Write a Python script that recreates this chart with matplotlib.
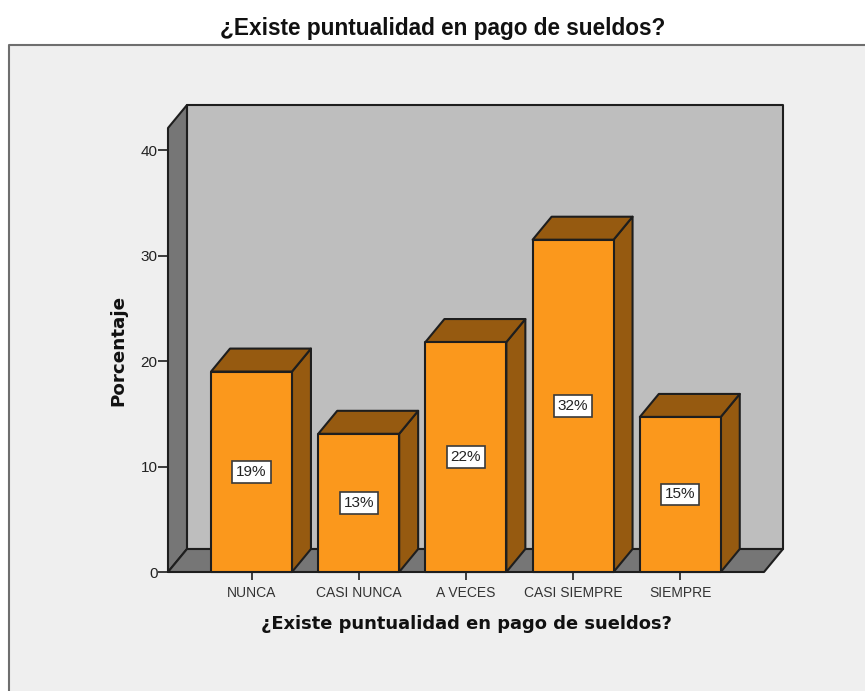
"""Barras 3D: puntualidad en pago de sueldos"""
import matplotlib
matplotlib.use('Agg')
import matplotlib.pyplot as plt
from matplotlib.patches import Polygon, Rectangle
from matplotlib.lines import Line2D

categorias = ['NUNCA', 'CASI NUNCA', 'A VECES', 'CASI SIEMPRE', 'SIEMPRE']
porcentajes = [19.0, 13.1, 21.8, 31.5, 14.7]
ticks_y = [0, 10, 20, 30, 40]
titulo = '¿Existe puntualidad en pago de sueldos?'
nombre_y = 'Porcentaje'

W, H = 865, 691
C_PANEL = '#EFEFEF'
C_FONDO = '#BEBEBE'
C_PARED = '#767676'
C_BARRA = '#FB981C'
C_LADO = '#965A10'
C_LINEA = '#1E1E1E'

# profundidad del efecto 3D y ancho de barra, en unidades de los ejes
DX, DY = 0.177, 2.18
ANCHO = 0.755


def caja(ax, pts, color, z=2):
    ax.add_patch(Polygon(pts, closed=True, facecolor=color, edgecolor=C_LINEA,
                         linewidth=1.5, joinstyle='round', clip_on=False, zorder=z))


def main():
    fig = plt.figure(figsize=(W / 100, H / 100), dpi=100, facecolor='white')

    # panel gris de fondo, se corta en los bordes derecho e inferior
    fig.add_artist(Rectangle((8 / W, 0), 1, 1 - 44 / H, transform=fig.transFigure,
                             facecolor=C_PANEL, edgecolor='none', zorder=-2))
    fig.add_artist(Line2D([8.5 / W, 8.5 / W, 1], [0, 1 - 44.5 / H, 1 - 44.5 / H],
                          color='#6E6E6E', linewidth=1.5, zorder=-1))

    ax = fig.add_axes([168 / W, 1 - 572 / H, (783 - 168) / W, (572 - 105) / H])
    ax.patch.set_visible(False)
    x0, x1 = -0.779, 4.958
    y1 = 44.27
    ax.set_xlim(x0, x1)
    ax.set_ylim(0, y1)
    for s in ax.spines.values():
        s.set_visible(False)

    # pared de fondo, pared lateral y piso
    caja(ax, [(x0 + DX, DY), (x1, DY), (x1, y1), (x0 + DX, y1)], C_FONDO, 1)
    caja(ax, [(x0, 0), (x0 + DX, DY), (x0 + DX, y1), (x0, y1 - DY)], C_PARED, 1)
    caja(ax, [(x0, 0), (x1 - DX, 0), (x1, DY), (x0 + DX, DY)], C_PARED, 1)

    for i, v in enumerate(porcentajes):
        a, b = i - ANCHO / 2, i + ANCHO / 2
        caja(ax, [(b, 0), (b + DX, DY), (b + DX, v + DY), (b, v)], C_LADO)
        caja(ax, [(a, v), (a + DX, v + DY), (b + DX, v + DY), (b, v)], C_LADO)
        caja(ax, [(a, 0), (b, 0), (b, v), (a, v)], C_BARRA, 3)
        ax.text(i, v / 2, f'{v:.0f}%', ha='center', va='center', fontsize=11,
                family='Liberation Sans', color='#222222', zorder=4,
                bbox=dict(boxstyle='square,pad=0.25', facecolor='white',
                          edgecolor='#3A3A3A', linewidth=1.2))

    ax.set_xticks(range(len(categorias)))
    ax.set_xticklabels(categorias, fontsize=10, family='Liberation Sans', color='#333333')
    ax.set_yticks(ticks_y)
    ax.set_yticklabels([str(t) for t in ticks_y], fontsize=11,
                       family='Liberation Sans', color='#222222')
    ax.tick_params(axis='x', length=6, width=1.2, color=C_LINEA, pad=4)
    ax.tick_params(axis='y', length=7, width=1.2, color=C_LINEA, pad=0.5)

    fig.text(443 / W, 1 - 28 / H, titulo, ha='center', va='center', fontsize=16.3,
             fontweight='bold', family='Liberation Sans', color='#111111')
    fig.text(466 / W, 1 - 624 / H, titulo, ha='center', va='center', fontsize=12.9,
             fontweight='bold', family='DejaVu Sans', color='#111111')
    fig.text(118 / W, 1 - 350 / H, nombre_y, ha='center', va='center', rotation=90,
             fontsize=13.2, fontweight='bold', family='DejaVu Sans', color='#111111')

    fig.savefig('out.png', dpi=100, facecolor='white')


if __name__ == '__main__':
    main()
